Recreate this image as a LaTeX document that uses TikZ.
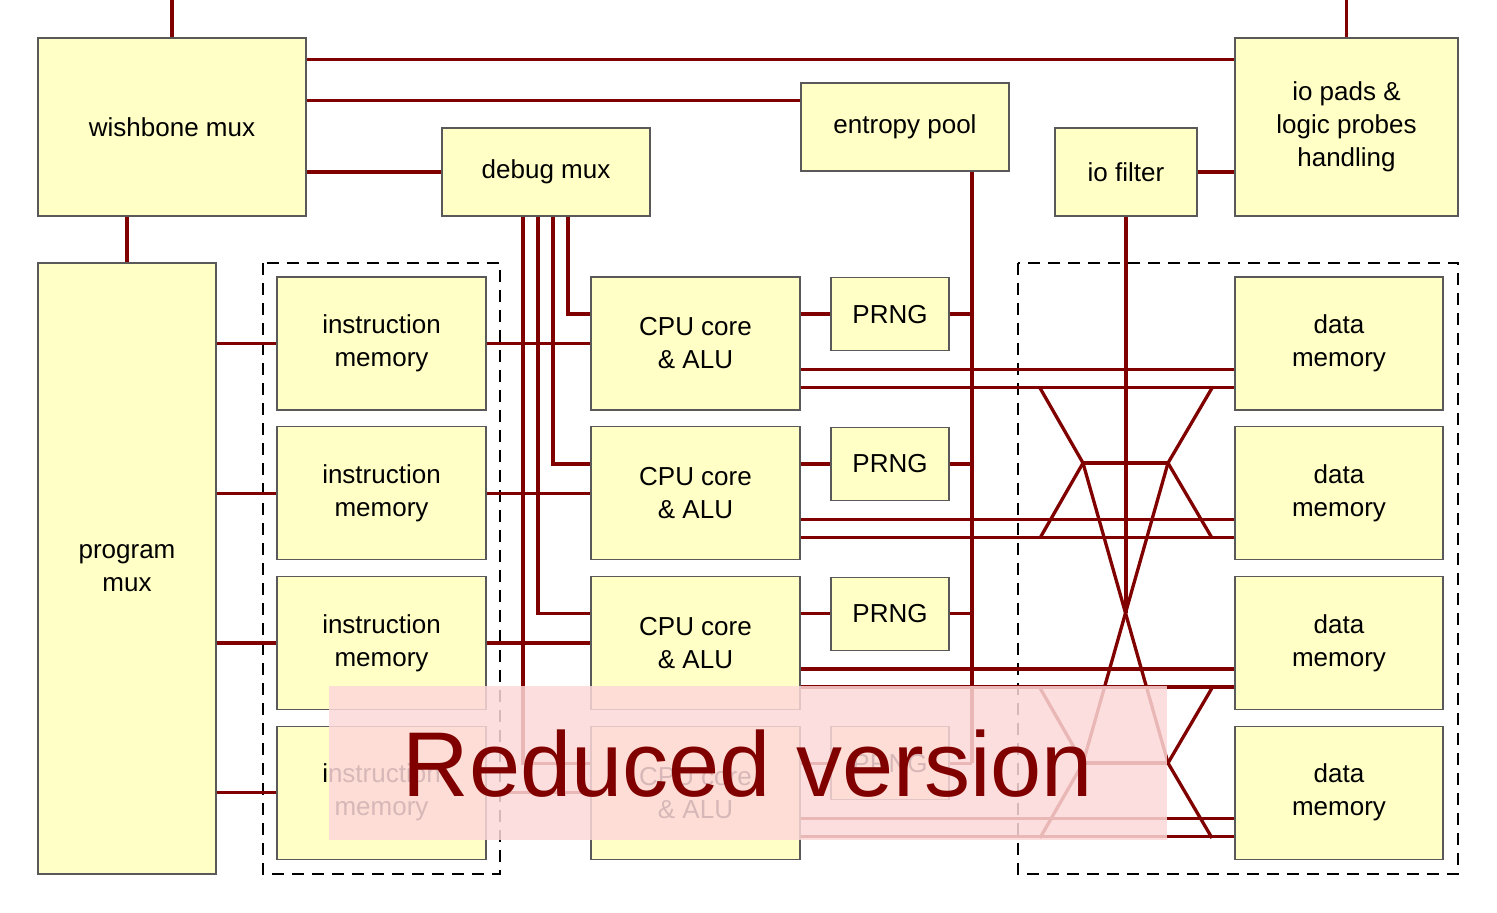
\documentclass[tikz,border=0pt]{standalone}
\usepackage{fontspec}
\setmainfont{Liberation Sans}
\usetikzlibrary{calc}
\definecolor{boxyellow}{HTML}{FFFFC6}
\definecolor{wirered}{HTML}{800000}
\definecolor{veilpink}{HTML}{FDD8D8}
\tikzset{
  blk/.style={draw=black!65, fill=boxyellow, line width=1.2pt, inner sep=0pt,
    align=center, font=\fontsize{26}{33}\selectfont},
  wire/.style={draw=wirered, line width=3.3pt},
  grp/.style={draw=black, line width=1.5pt, dash pattern=on 12pt off 8pt},
}
\begin{document}
\begin{tikzpicture}[x=1pt,y=-1pt]
\useasboundingbox (0,0) rectangle (1497,913);
% dashed groups
\draw[grp] (263,263) rectangle (500,874);
\draw[grp] (1018,263) rectangle (1458,874);
% nodes
\node[blk, minimum width=268pt, minimum height=178pt] (wb) at (172,127) {wishbone mux};
\node[blk, minimum width=178pt, minimum height=611pt] (pm) at (127,568.5) {program\\mux};
\node[blk, minimum width=208pt, minimum height=88pt] (dbg) at (546,172) {debug mux};
\node[blk, minimum width=208pt, minimum height=88pt] (ent) at (905,127) {entropy pool};
\node[blk, minimum width=142pt, minimum height=88pt] (iof) at (1126,172) {io filter};
\node[blk, minimum width=223pt, minimum height=178pt] (iop) at (1346.5,127) {io pads \&\\logic probes\\handling};
\foreach \i/\y in {1/343.5,2/493.3,3/643,4/792.7}{
  \node[blk, minimum width=209pt, minimum height=133pt] (im\i) at (381.5,\y) {instruction\\memory};
  \node[blk, minimum width=209pt, minimum height=133pt] (cpu\i) at (695.5,\y) {CPU core\\\& ALU};
  \node[blk, minimum width=118pt, minimum height=73pt, anchor=north] (prng\i) at ($(890,\y)+(0,-66.5)$) {PRNG};
  \node[blk, minimum width=208pt, minimum height=133pt] (dm\i) at (1339,\y) {data\\memory};
}
% free ends / helper coordinates
\coordinate (topA) at (172,0);
\coordinate (topB) at (1347,0);
\coordinate (ex) at (972,0);
\coordinate (d1) at (568,0);
\coordinate (d2) at (553,0);
\coordinate (d3) at (538,0);
\coordinate (d4) at (523,0);
\coordinate (xc) at (1125.5,613);
% wires top
\draw[wire] (wb.north) -- (topA);
\draw[wire] (iop.north) -- (iop.north |- topB);
\draw[wire] ([yshift=-22pt]wb.north east) -- ([yshift=-22pt]iop.north west);
\draw[wire] ([yshift=-63pt]wb.north east) -- ([yshift=-18pt]ent.north west);
\draw[wire] (wb.east |- dbg.west) -- (dbg.west);
\draw[wire] (iof.east) -- (iop.west |- iof.east);
\draw[wire] (pm.north |- wb.south) -- (pm.north);
% entropy bus
\draw[wire] (ex |- ent.south) -- (ex |- prng4.east);
% io filter down to crossing
\draw[wire] (iof.south) -- (iof.south |- xc);
% debug lines
\draw[wire] (d1 |- dbg.south) |- (cpu1.west |- prng1.west);
\draw[wire] (d2 |- dbg.south) |- (cpu2.west |- prng2.west);
\draw[wire] (d3 |- dbg.south) |- (cpu3.west |- prng3.west);
\draw[wire] (d4 |- dbg.south) |- (cpu4.west |- prng4.west);
\foreach \i in {1,2,3,4}{
  \draw[wire] (pm.east |- im\i.west) -- (im\i.west);
  \draw[wire] (im\i.east) -- (cpu\i.west);
  \draw[wire] (cpu\i.east |- prng\i.west) -- (prng\i.west);
  \draw[wire] (prng\i.east) -- (ex |- prng\i.east);
  \draw[wire] ([yshift=-93pt]cpu\i.north east) -- ([yshift=-93pt]dm\i.north west);
  \draw[wire] ([yshift=-111pt]cpu\i.north east) -- ([yshift=-111pt]dm\i.north west);
}
% crossing network
\foreach \o in {0,300}{
  \draw[wire, line join=miter] (1040,388+\o) -- (1083,463+\o) -- (1040,538+\o);
  \draw[wire, line join=miter] (1212,388+\o) -- (1168,463+\o) -- (1212,538+\o);
  \draw[wire] (1083,463+\o) -- (1168,463+\o);
}
\draw[wire] (1083,463) -- (1168,763);
\draw[wire] (1168,463) -- (1083,763);
% redraw boxes edges are on top already; overlay
\fill[veilpink, fill opacity=0.85] (329,686) rectangle (1167,840);
\node[text=wirered, font=\fontsize{92}{100}\selectfont, inner sep=0pt] (veil) at (748,764) {Reduced version};
\end{tikzpicture}
\end{document}
